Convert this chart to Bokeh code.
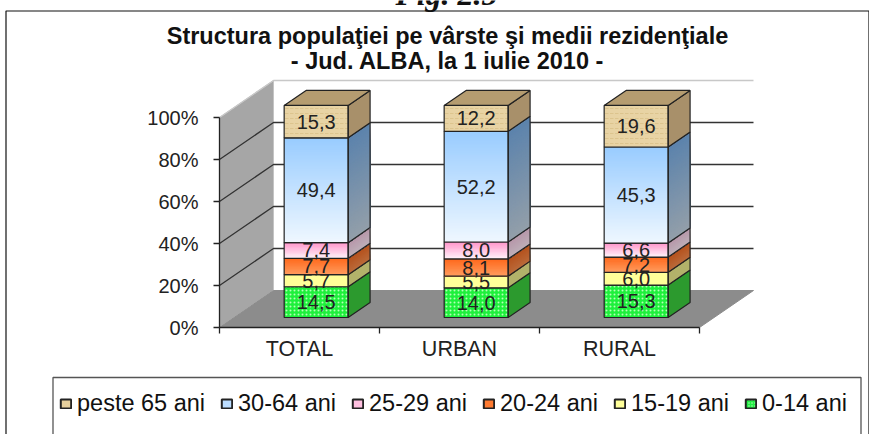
from bokeh.plotting import figure
from bokeh.embed import file_html
from bokeh.resources import INLINE
from bokeh.core.properties import value
from bokeh.models import LinearAxis, FixedTicker, PrintfTickFormatter, Legend, LegendItem, Range1d

categories = ["TOTAL", "URBAN", "RURAL"]
series = ["0-14 ani", "15-19 ani", "20-24 ani", "25-29 ani", "30-64 ani", "peste 65 ani"]
v_0_14 = [14.5, 14.0, 15.3]
v_15_19 = [5.7, 5.5, 6.0]
v_20_24 = [7.7, 8.1, 7.2]
v_25_29 = [7.4, 8.0, 6.6]
v_30_64 = [49.4, 52.2, 45.3]
v_65 = [15.3, 12.2, 19.6]
values = [v_0_14, v_15_19, v_20_24, v_25_29, v_30_64, v_65]
y_ticks = [0, 20, 40, 60, 80, 100]
labels = ["Structura populaţiei pe vârste şi medii rezidenţiale", "- Jud. ALBA, la 1 iulie 2010 -"]

W, H = 869, 434
PX_X, PX_Y = 160.0, 2.10
X0, Y0 = 219.0, 327.0
X = lambda px: (px - X0) / PX_X
Y = lambda px: (Y0 - px) / PX_Y
DX, DY = 54 / PX_X, 37 / PX_Y
D1, D2 = 0.27, 0.676
BAR_OFF, BAR_W = 0.313, 0.40
BAR_STRETCH = 1.01

# colours: front top, front bottom, side top, side bottom
colours = [
    ("#1EF03C", "#1EF03C", "#2C9A2E", "#2C9A2E"),
    ("#FFFF99", "#FFFF99", "#B2B26A", "#B2B26A"),
    ("#FF6A1E", "#FF9A5C", "#B5521E", "#BA6A3A"),
    ("#FF99CC", "#FFF0F8", "#B898AA", "#BDAEB8"),
    ("#99CCFF", "#EEF7FF", "#5C83AC", "#939FAA"),
    ("#E8D3A4", "#E8D3A4", "#A8906A", "#A8906A"),
]
legend_colours = ["#22EE44", "#FFFF99", "#FF7A30", "#FFC0E0", "#BBDDFF", "#E6CF9C"]


def mix(a, b, t):
    ca = [int(a[i:i + 2], 16) for i in (1, 3, 5)]
    cb = [int(b[i:i + 2], 16) for i in (1, 3, 5)]
    return "#%02x%02x%02x" % tuple(round(p + (q - p) * t) for p, q in zip(ca, cb))


p = figure(width=W, height=H, toolbar_location=None, output_backend="svg",
           x_range=Range1d(X(0), X(W)), y_range=Range1d(Y(H), Y(0)),
           min_border=0, min_border_left=0, min_border_right=0, min_border_top=0, min_border_bottom=0,
           x_axis_type=None, y_axis_type=None, outline_line_color=None)
p.grid.visible = False

# outer chart frame and legend box
p.line([X(5.5), X(5.5), X(868.5), X(868.5)], [Y(434), Y(10.5), Y(10.5), Y(434)], line_color="#111111", line_width=1.2)
p.line([X(52.5), X(52.5), X(860.5), X(860.5)], [Y(434), Y(377), Y(377), Y(434)], line_color="#555555", line_width=1.3)

# walls and floor
p.patch([0, DX, DX, 0], [0, DY, 100 + DY, 100], fill_color="#A6A6A6", line_color="#C4C4C4", line_width=1)
p.patch([0, DX, 3 + DX, 3], [0, DY, DY, 0], fill_color="#8C8C8C", line_color="#8C8C8C")
for t in y_ticks[1:]:
    col = "#C8C8C8" if t == 100 else "#333333"
    p.line([0, DX, 3 + DX], [t, t + DY, t + DY], line_color=col, line_width=1.3)

# stacked 3D bars
for i in range(3):
    base = 0.0
    left = i + BAR_OFF + DX * D1
    right = left + BAR_W
    rx = right + DX * (D2 - D1)
    o1, o2 = DY * D1, DY * D2
    for s, vals in enumerate(values):
        v = vals[i] * BAR_STRETCH
        top = base + v
        c = colours[s]
        n = 1 if c[0] == c[1] and c[2] == c[3] else max(6, int(v * 1.5))
        for k in range(n):
            yk = top - v * k / n
            t = k / max(n - 1, 1)
            kw = {}
            if s == 0:
                kw = dict(hatch_pattern="dot", hatch_color="#B6FFB6", hatch_scale=4, hatch_weight=1)
            if s == 5:
                kw = dict(hatch_pattern="horizontal_dash", hatch_color="#DCC48E", hatch_scale=5, hatch_weight=1)
            p.quad(left=[left], right=[right], bottom=[base + o1], top=[yk + o1],
                   fill_color=mix(c[0], c[1], t), line_color=None, **kw)
            p.patch([right, rx, rx, right], [base + o1, base + o2, yk + o2, yk + o1],
                    fill_color=mix(c[2], c[3], t), line_color=None)
        p.quad(left=[left], right=[right], bottom=[base + o1], top=[top + o1],
               fill_color=None, line_color="#222222", line_width=1.2)
        p.patch([right, rx, rx, right], [base + o1, base + o2, top + o2, top + o1],
                fill_color=None, line_color="#222222", line_width=1.2)
        p.text([(left + right) / 2], [(base + top) / 2 + o1], text=[f"{vals[i]:.1f}".replace(".", ",")],
               text_font=value("Liberation Sans"), text_font_size="20px", text_color="#222222",
               text_align="center", text_baseline="middle")
        base = top
    p.patch([left, right, rx, left + DX * (D2 - D1)],
            [base + o1, base + o1, base + o2, base + o2],
            fill_color="#B59C70", line_color="#222222", line_width=1.2)

# axes
yax = LinearAxis(fixed_location=0, bounds=(0, 100), ticker=FixedTicker(ticks=y_ticks),
                 formatter=PrintfTickFormatter(format="%d%%"),
                 major_label_text_font="Liberation Sans", major_label_text_font_size="20px",
                 major_label_text_color="#222222", axis_line_color="#222222", axis_line_width=1.3,
                 major_tick_line_color="#222222", major_tick_line_width=1.3,
                 major_tick_in=0, major_tick_out=6, minor_tick_out=0, minor_tick_in=0, major_label_standoff=15)
p.add_layout(yax, "left")
xax = LinearAxis(fixed_location=0, bounds=(0, 3), ticker=FixedTicker(ticks=[0.5, 1.5, 2.5], minor_ticks=[0, 1, 2, 3]),
                 major_label_overrides={0.5 + i: c for i, c in enumerate(categories)},
                 major_label_text_font="Liberation Sans", major_label_text_font_size="21.5px",
                 major_label_text_color="#222222", axis_line_color="#222222", axis_line_width=1.3,
                 major_tick_in=0, major_tick_out=0, minor_tick_in=0, minor_tick_out=6,
                 minor_tick_line_color="#222222", minor_tick_line_width=1.3, major_label_standoff=3)
p.add_layout(xax, "below")

# headings
p.text([X(447)], [Y(35)], text=[labels[0]], text_font=value("Liberation Sans"), text_font_style="bold",
       text_font_size="23.5px", text_align="center", text_baseline="middle", text_color="#111111")
p.text([X(447)], [Y(60)], text=[labels[1]], text_font=value("Liberation Sans"), text_font_style="bold",
       text_font_size="23.5px", text_align="center", text_baseline="middle", text_color="#111111")
p.text([X(446)], [Y(-7)], text=["Fig. 2.5"], text_font=value("Liberation Serif"), text_font_style="bold italic",
       text_font_size="32px", text_align="center", text_baseline="alphabetic", text_color="#111111")

# legend
items = []
for s in reversed(range(6)):
    kw = dict(hatch_pattern="dot", hatch_color="#B6FFB6", hatch_scale=3, hatch_weight=1) if s == 0 else {}
    r = p.quad(left=[float("nan")], right=[float("nan")], bottom=[float("nan")], top=[float("nan")],
               fill_color=legend_colours[s], line_color="#222222", line_width=2, **kw)
    items.append(LegendItem(label=series[s], renderers=[r]))
leg = Legend(items=items, orientation="horizontal", location=(59, 17), border_line_color=None,
             background_fill_alpha=0, label_text_font="Liberation Sans", label_text_font_size="23.5px",
             label_text_color="#111111", glyph_width=13, glyph_height=11, label_standoff=5, spacing=15,
             padding=0, margin=0, label_height=22)
p.add_layout(leg, "center")

open("out.html", "w").write(file_html(p, INLINE))
